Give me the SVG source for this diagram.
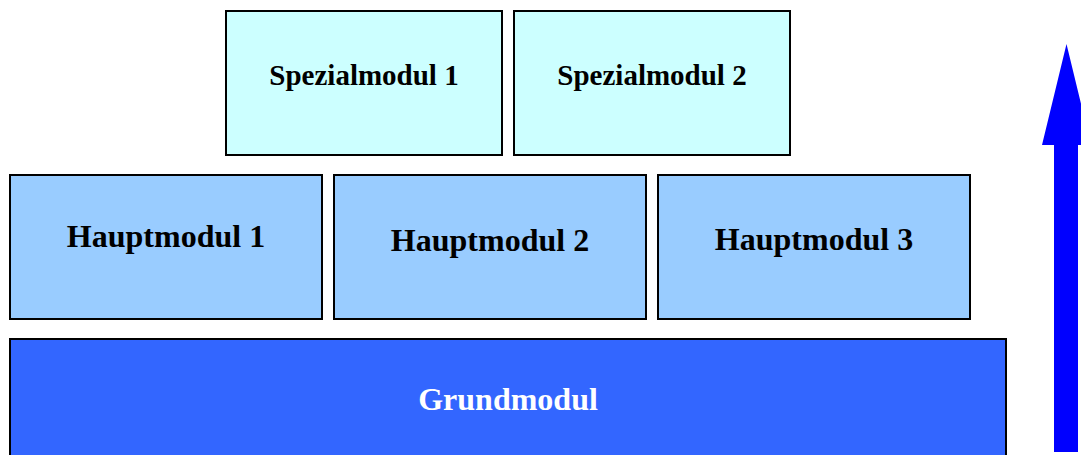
<svg xmlns="http://www.w3.org/2000/svg" width="1081" height="455" viewBox="0 0 1081 455">
<style>
.box{stroke:#000;stroke-width:2}
.spez{fill:#CCFFFF}
.haupt{fill:#99CCFF}
.grund{fill:#3366FF}
.t{font-family:"Liberation Serif","Times New Roman",serif;font-weight:bold;text-anchor:middle;fill:#000}
.s{font-size:29px}
.h{font-size:32px}
.w{fill:#fff}
</style>
<rect width="1081" height="455" fill="#fff"/>
<g id="grundmodul">
<rect class="box grund" x="10" y="339" width="996" height="130"/>
<text class="t h w" x="508" y="410">Grundmodul</text>
</g>
<g id="hauptmodul1">
<rect class="box haupt" x="10" y="175" width="312" height="144"/>
<text class="t h" x="166" y="247">Hauptmodul 1</text>
</g>
<g id="hauptmodul2">
<rect class="box haupt" x="334" y="175" width="312" height="144"/>
<text class="t h" x="490" y="251">Hauptmodul 2</text>
</g>
<g id="hauptmodul3">
<rect class="box haupt" x="658" y="175" width="312" height="144"/>
<text class="t h" x="814" y="250">Hauptmodul 3</text>
</g>
<g id="spezialmodul1">
<rect class="box spez" x="226" y="11" width="276" height="144"/>
<text class="t s" x="364" y="85">Spezialmodul 1</text>
</g>
<g id="spezialmodul2">
<rect class="box spez" x="514" y="11" width="276" height="144"/>
<text class="t s" x="652" y="85">Spezialmodul 2</text>
</g>
<g id="connectors">
<polygon points="1054,452 1054,145 1042,145 1066.5,44 1091,145 1078,145 1078,452" fill="#0000FF"/>
</g>
</svg>
